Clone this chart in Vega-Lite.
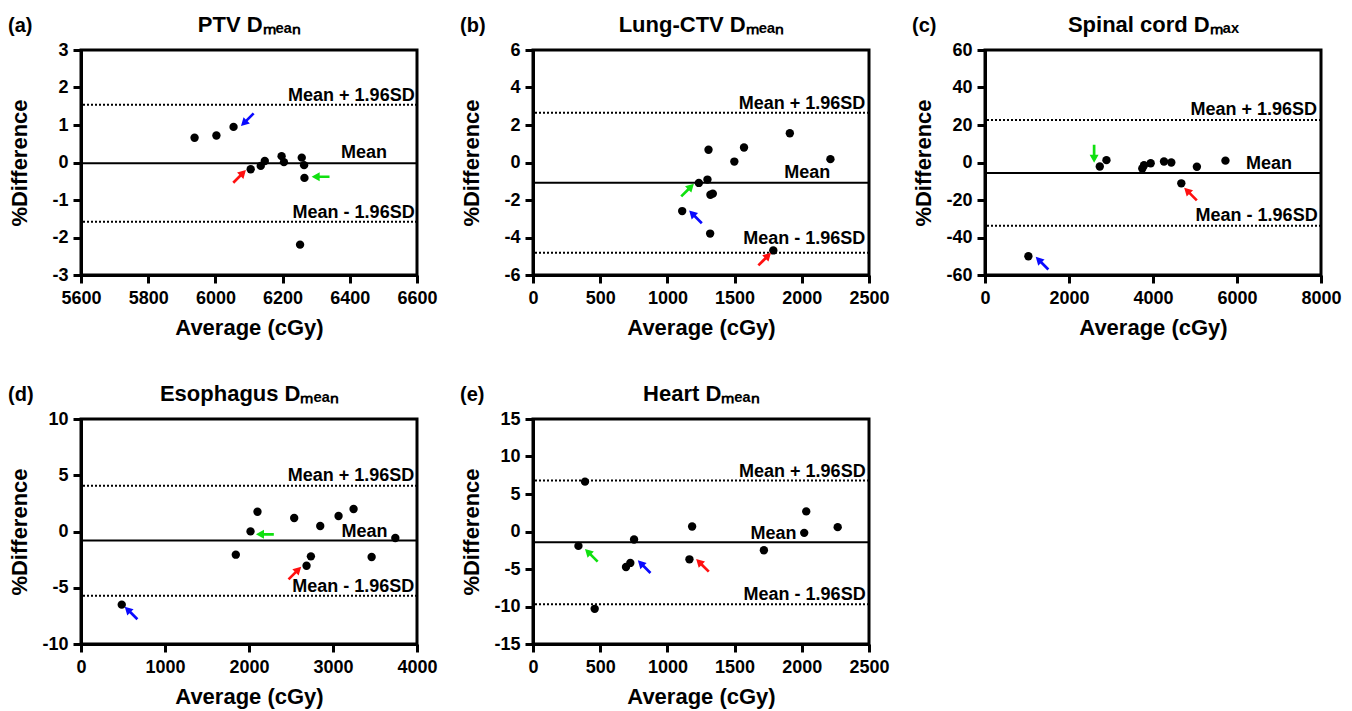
{
  "$schema": "https://vega.github.io/schema/vega-lite/v6.json",
  "background": "white",
  "padding": {"left": 6, "top": 11, "right": 5, "bottom": 5},
  "columns": 3,
  "spacing": {"row": 144, "column": 116},
  "bounds": "flush",
  "config": {
    "font": "Liberation Sans",
    "view": {"stroke": "black", "strokeWidth": 3},
    "axis": {
      "labelFont": "Liberation Sans", "labelFontSize": 18, "labelFontWeight": "bold", "labelColor": "black",
      "titleFont": "Liberation Sans", "titleFontSize": 22, "titleFontWeight": "bold", "titleColor": "black",
      "domainColor": "black", "domainWidth": 3, "tickColor": "black", "tickWidth": 3, "tickSize": 8,
      "grid": false, "labelPadding": 5, "labelFlush": false, "labelOverlap": false
    },
    "axisY": {"minExtent": 36, "maxExtent": 36, "titlePadding": 14},
    "axisBottom": {"titlePadding": 10, "labelPadding": 6},
    "axisTop": {"minExtent": 0, "maxExtent": 0, "titlePadding": 14, "labels": false, "ticks": false, "domain": false},
    "title": {"font": "Liberation Sans", "fontSize": 20, "fontWeight": "bold", "color": "black", "anchor": "start", "frame": "bounds", "offset": -23},
    "text": {"font": "Liberation Sans", "fontSize": 18, "fontWeight": "bold", "align": "right", "baseline": "alphabetic", "color": "black"}
  },
  "concat": [
    {
      "title": "(a)",
      "width": 336, "height": 225,
      "resolve": {"axis": {"x": "independent"}},
      "layer": [
        {
          "data": {"values": [{"line": "Mean", "value": -0.02}, {"line": "Mean + 1.96SD", "value": 1.54}, {"line": "Mean - 1.96SD", "value": -1.58}]},
          "mark": {"type": "rule", "strokeWidth": 2, "color": "black"},
          "encoding": {
            "y": {"field": "value", "type": "quantitative", "scale": {"domain": [-3, 3], "nice": false, "zero": false}, "axis": {"title": "%Difference", "values": [-3, -2, -1, 0, 1, 2, 3], "labelExpr": "toString(datum.value)"}},
            "strokeDash": {"field": "line", "type": "nominal", "scale": {"domain": ["Mean", "Mean + 1.96SD", "Mean - 1.96SD"], "range": [[1, 0], [2, 2], [2, 2]]}, "legend": null}
          }
        },
        {
          "data": {"values": [{"avg": 5938, "diff": 0.66}, {"avg": 6003, "diff": 0.72}, {"avg": 6054, "diff": 0.95}, {"avg": 6105, "diff": -0.18}, {"avg": 6135, "diff": -0.09}, {"avg": 6147, "diff": 0.04}, {"avg": 6197, "diff": 0.17}, {"avg": 6204, "diff": 0.01}, {"avg": 6257, "diff": 0.13}, {"avg": 6264, "diff": -0.07}, {"avg": 6265, "diff": -0.41}, {"avg": 6252, "diff": -2.19}]},
          "mark": {"type": "circle", "size": 70, "color": "black", "opacity": 1},
          "encoding": {
            "x": {"field": "avg", "type": "quantitative", "scale": {"domain": [5600, 6600], "nice": false, "zero": false}, "axis": {"orient": "bottom", "title": "Average (cGy)", "values": [5600, 5800, 6000, 6200, 6400, 6600], "labelExpr": "toString(datum.value)"}},
            "y": {"field": "diff", "type": "quantitative", "scale": {"domain": [-3, 3], "nice": false, "zero": false}, "axis": {"title": "%Difference", "values": [-3, -2, -1, 0, 1, 2, 3], "labelExpr": "toString(datum.value)"}}
          }
        },
        {
          "data": {"values": [{"label": "Mean + 1.96SD", "x": 6593, "y": 1.63}, {"label": "Mean", "x": 6511, "y": 0.12}, {"label": "Mean - 1.96SD", "x": 6593, "y": -1.48}]},
          "mark": {"type": "text"},
          "encoding": {
            "x": {"field": "x", "type": "quantitative", "scale": {"domain": [5600, 6600], "nice": false, "zero": false}, "axis": {"orient": "top", "title": "PTV Dₘₑₐₙ"}},
            "y": {"field": "y", "type": "quantitative", "scale": {"domain": [-3, 3], "nice": false, "zero": false}, "axis": {"title": "%Difference", "values": [-3, -2, -1, 0, 1, 2, 3], "labelExpr": "toString(datum.value)"}},
            "text": {"field": "label"}
          }
        },
        {
          "data": {"values": [{"case": "Case 1", "dir": "SW", "x": 6095, "y": 1.14}, {"case": "Case 2", "dir": "NE", "x": 6072, "y": -0.37}, {"case": "Case 3", "dir": "W", "x": 6313, "y": -0.38}]},
          "mark": {"type": "point", "filled": true, "size": 320, "opacity": 1},
          "encoding": {
            "x": {"field": "x", "type": "quantitative", "scale": {"domain": [5600, 6600], "nice": false, "zero": false}, "axis": null},
            "y": {"field": "y", "type": "quantitative", "scale": {"domain": [-3, 3], "nice": false, "zero": false}, "axis": {"title": "%Difference", "values": [-3, -2, -1, 0, 1, 2, 3], "labelExpr": "toString(datum.value)"}},
            "shape": {"field": "dir", "type": "nominal", "legend": null, "scale": {"domain": ["NE", "NW", "SW", "W", "S"], "range": ["M-0.813,0.601L-0.035,-0.177L-0.283,-0.424L0.707,-0.707L0.424,0.283L0.177,0.035L-0.601,0.813Z", "M0.813,0.601L0.035,-0.177L0.283,-0.424L-0.707,-0.707L-0.424,0.283L-0.177,0.035L0.601,0.813Z", "M0.813,-0.601L0.035,0.177L0.283,0.424L-0.707,0.707L-0.424,-0.283L-0.177,-0.035L0.601,-0.813Z", "M1,0.15L-0.1,0.15L-0.1,0.5L-1,0L-0.1,-0.5L-0.1,-0.15L1,-0.15Z", "M0.15,-1L0.15,0.1L0.5,0.1L0,1L-0.5,0.1L-0.15,0.1L-0.15,-1Z"]}},
            "color": {"field": "case", "type": "nominal", "legend": null, "scale": {"domain": ["Case 1", "Case 2", "Case 3"], "range": ["#0a0aff", "#ff1010", "#10e010"]}}
          }
        }
      ]
    },
    {
      "title": "(b)",
      "width": 336, "height": 225,
      "resolve": {"axis": {"x": "independent"}},
      "layer": [
        {
          "data": {"values": [{"line": "Mean", "value": -1.08}, {"line": "Mean + 1.96SD", "value": 2.65}, {"line": "Mean - 1.96SD", "value": -4.81}]},
          "mark": {"type": "rule", "strokeWidth": 2, "color": "black"},
          "encoding": {
            "y": {"field": "value", "type": "quantitative", "scale": {"domain": [-6, 6], "nice": false, "zero": false}, "axis": {"title": "%Difference", "values": [-6, -4, -2, 0, 2, 4, 6], "labelExpr": "toString(datum.value)"}},
            "strokeDash": {"field": "line", "type": "nominal", "scale": {"domain": ["Mean", "Mean + 1.96SD", "Mean - 1.96SD"], "range": [[1, 0], [2, 2], [2, 2]]}, "legend": null}
          }
        },
        {
          "data": {"values": [{"avg": 1110, "diff": -2.59}, {"avg": 1234, "diff": -1.09}, {"avg": 1298, "diff": -0.91}, {"avg": 1306, "diff": 0.68}, {"avg": 1318, "diff": -3.79}, {"avg": 1320, "diff": -1.72}, {"avg": 1338, "diff": -1.66}, {"avg": 1498, "diff": 0.05}, {"avg": 1570, "diff": 0.8}, {"avg": 1788, "diff": -4.69}, {"avg": 1911, "diff": 1.56}, {"avg": 2213, "diff": 0.18}]},
          "mark": {"type": "circle", "size": 70, "color": "black", "opacity": 1},
          "encoding": {
            "x": {"field": "avg", "type": "quantitative", "scale": {"domain": [0, 2500], "nice": false, "zero": false}, "axis": {"orient": "bottom", "title": "Average (cGy)", "values": [0, 500, 1000, 1500, 2000, 2500], "labelExpr": "toString(datum.value)"}},
            "y": {"field": "diff", "type": "quantitative", "scale": {"domain": [-6, 6], "nice": false, "zero": false}, "axis": {"title": "%Difference", "values": [-6, -4, -2, 0, 2, 4, 6], "labelExpr": "toString(datum.value)"}}
          }
        },
        {
          "data": {"values": [{"label": "Mean + 1.96SD", "x": 2473, "y": 2.86}, {"label": "Mean", "x": 2211, "y": -0.84}, {"label": "Mean - 1.96SD", "x": 2473, "y": -4.33}]},
          "mark": {"type": "text"},
          "encoding": {
            "x": {"field": "x", "type": "quantitative", "scale": {"domain": [0, 2500], "nice": false, "zero": false}, "axis": {"orient": "top", "title": "Lung-CTV Dₘₑₐₙ"}},
            "y": {"field": "y", "type": "quantitative", "scale": {"domain": [-6, 6], "nice": false, "zero": false}, "axis": {"title": "%Difference", "values": [-6, -4, -2, 0, 2, 4, 6], "labelExpr": "toString(datum.value)"}},
            "text": {"field": "label"}
          }
        },
        {
          "data": {"values": [{"case": "Case 3", "dir": "NE", "x": 1150, "y": -1.47}, {"case": "Case 1", "dir": "NW", "x": 1209, "y": -2.9}, {"case": "Case 2", "dir": "NE", "x": 1724, "y": -5.15}]},
          "mark": {"type": "point", "filled": true, "size": 320, "opacity": 1},
          "encoding": {
            "x": {"field": "x", "type": "quantitative", "scale": {"domain": [0, 2500], "nice": false, "zero": false}, "axis": null},
            "y": {"field": "y", "type": "quantitative", "scale": {"domain": [-6, 6], "nice": false, "zero": false}, "axis": {"title": "%Difference", "values": [-6, -4, -2, 0, 2, 4, 6], "labelExpr": "toString(datum.value)"}},
            "shape": {"field": "dir", "type": "nominal", "legend": null, "scale": {"domain": ["NE", "NW", "SW", "W", "S"], "range": ["M-0.813,0.601L-0.035,-0.177L-0.283,-0.424L0.707,-0.707L0.424,0.283L0.177,0.035L-0.601,0.813Z", "M0.813,0.601L0.035,-0.177L0.283,-0.424L-0.707,-0.707L-0.424,0.283L-0.177,0.035L0.601,0.813Z", "M0.813,-0.601L0.035,0.177L0.283,0.424L-0.707,0.707L-0.424,-0.283L-0.177,-0.035L0.601,-0.813Z", "M1,0.15L-0.1,0.15L-0.1,0.5L-1,0L-0.1,-0.5L-0.1,-0.15L1,-0.15Z", "M0.15,-1L0.15,0.1L0.5,0.1L0,1L-0.5,0.1L-0.15,0.1L-0.15,-1Z"]}},
            "color": {"field": "case", "type": "nominal", "legend": null, "scale": {"domain": ["Case 1", "Case 2", "Case 3"], "range": ["#0a0aff", "#ff1010", "#10e010"]}}
          }
        }
      ]
    },
    {
      "title": "(c)",
      "width": 336, "height": 225,
      "resolve": {"axis": {"x": "independent"}},
      "layer": [
        {
          "data": {"values": [{"line": "Mean", "value": -5.55}, {"line": "Mean + 1.96SD", "value": 22.7}, {"line": "Mean - 1.96SD", "value": -33.7}]},
          "mark": {"type": "rule", "strokeWidth": 2, "color": "black"},
          "encoding": {
            "y": {"field": "value", "type": "quantitative", "scale": {"domain": [-60, 60], "nice": false, "zero": false}, "axis": {"title": "%Difference", "values": [-60, -40, -20, 0, 20, 40, 60], "labelExpr": "toString(datum.value)"}},
            "strokeDash": {"field": "line", "type": "nominal", "scale": {"domain": ["Mean", "Mean + 1.96SD", "Mean - 1.96SD"], "range": [[1, 0], [2, 2], [2, 2]]}, "legend": null}
          }
        },
        {
          "data": {"values": [{"avg": 1033, "diff": -50.0}, {"avg": 2733, "diff": -2.15}, {"avg": 2892, "diff": 1.25}, {"avg": 3745, "diff": -3.2}, {"avg": 3786, "diff": -1.45}, {"avg": 3945, "diff": -0.4}, {"avg": 4262, "diff": 0.54}, {"avg": 4436, "diff": 0.0}, {"avg": 4674, "diff": -11.1}, {"avg": 5045, "diff": -2.25}, {"avg": 5725, "diff": 1.0}]},
          "mark": {"type": "circle", "size": 70, "color": "black", "opacity": 1},
          "encoding": {
            "x": {"field": "avg", "type": "quantitative", "scale": {"domain": [0, 8000], "nice": false, "zero": false}, "axis": {"orient": "bottom", "title": "Average (cGy)", "values": [0, 2000, 4000, 6000, 8000], "labelExpr": "toString(datum.value)"}},
            "y": {"field": "diff", "type": "quantitative", "scale": {"domain": [-60, 60], "nice": false, "zero": false}, "axis": {"title": "%Difference", "values": [-60, -40, -20, 0, 20, 40, 60], "labelExpr": "toString(datum.value)"}}
          }
        },
        {
          "data": {"values": [{"label": "Mean + 1.96SD", "x": 7904, "y": 25.4}, {"label": "Mean", "x": 7308, "y": -3.58}, {"label": "Mean - 1.96SD", "x": 7920, "y": -31.3}]},
          "mark": {"type": "text"},
          "encoding": {
            "x": {"field": "x", "type": "quantitative", "scale": {"domain": [0, 8000], "nice": false, "zero": false}, "axis": {"orient": "top", "title": "Spinal cord Dₘₐₓ"}},
            "y": {"field": "y", "type": "quantitative", "scale": {"domain": [-60, 60], "nice": false, "zero": false}, "axis": {"title": "%Difference", "values": [-60, -40, -20, 0, 20, 40, 60], "labelExpr": "toString(datum.value)"}},
            "text": {"field": "label"}
          }
        },
        {
          "data": {"values": [{"case": "Case 3", "dir": "S", "x": 2598, "y": 4.66}, {"case": "Case 2", "dir": "NW", "x": 4893, "y": -16.8}, {"case": "Case 1", "dir": "NW", "x": 1358, "y": -53.7}]},
          "mark": {"type": "point", "filled": true, "size": 320, "opacity": 1},
          "encoding": {
            "x": {"field": "x", "type": "quantitative", "scale": {"domain": [0, 8000], "nice": false, "zero": false}, "axis": null},
            "y": {"field": "y", "type": "quantitative", "scale": {"domain": [-60, 60], "nice": false, "zero": false}, "axis": {"title": "%Difference", "values": [-60, -40, -20, 0, 20, 40, 60], "labelExpr": "toString(datum.value)"}},
            "shape": {"field": "dir", "type": "nominal", "legend": null, "scale": {"domain": ["NE", "NW", "SW", "W", "S"], "range": ["M-0.813,0.601L-0.035,-0.177L-0.283,-0.424L0.707,-0.707L0.424,0.283L0.177,0.035L-0.601,0.813Z", "M0.813,0.601L0.035,-0.177L0.283,-0.424L-0.707,-0.707L-0.424,0.283L-0.177,0.035L0.601,0.813Z", "M0.813,-0.601L0.035,0.177L0.283,0.424L-0.707,0.707L-0.424,-0.283L-0.177,-0.035L0.601,-0.813Z", "M1,0.15L-0.1,0.15L-0.1,0.5L-1,0L-0.1,-0.5L-0.1,-0.15L1,-0.15Z", "M0.15,-1L0.15,0.1L0.5,0.1L0,1L-0.5,0.1L-0.15,0.1L-0.15,-1Z"]}},
            "color": {"field": "case", "type": "nominal", "legend": null, "scale": {"domain": ["Case 1", "Case 2", "Case 3"], "range": ["#0a0aff", "#ff1010", "#10e010"]}}
          }
        }
      ]
    },
    {
      "title": "(d)",
      "width": 336, "height": 225,
      "resolve": {"axis": {"x": "independent"}},
      "layer": [
        {
          "data": {"values": [{"line": "Mean", "value": -0.81}, {"line": "Mean + 1.96SD", "value": 4.07}, {"line": "Mean - 1.96SD", "value": -5.7}]},
          "mark": {"type": "rule", "strokeWidth": 2, "color": "black"},
          "encoding": {
            "y": {"field": "value", "type": "quantitative", "scale": {"domain": [-10, 10], "nice": false, "zero": false}, "axis": {"title": "%Difference", "values": [-10, -5, 0, 5, 10], "labelExpr": "toString(datum.value)"}},
            "strokeDash": {"field": "line", "type": "nominal", "scale": {"domain": ["Mean", "Mean + 1.96SD", "Mean - 1.96SD"], "range": [[1, 0], [2, 2], [2, 2]]}, "legend": null}
          }
        },
        {
          "data": {"values": [{"avg": 485, "diff": -6.5}, {"avg": 1843, "diff": -2.06}, {"avg": 2018, "diff": 0.01}, {"avg": 2101, "diff": 1.76}, {"avg": 2538, "diff": 1.2}, {"avg": 2685, "diff": -3.04}, {"avg": 2737, "diff": -2.21}, {"avg": 2848, "diff": 0.49}, {"avg": 3066, "diff": 1.38}, {"avg": 3245, "diff": 2.0}, {"avg": 3460, "diff": -2.27}, {"avg": 3742, "diff": -0.58}]},
          "mark": {"type": "circle", "size": 70, "color": "black", "opacity": 1},
          "encoding": {
            "x": {"field": "avg", "type": "quantitative", "scale": {"domain": [0, 4000], "nice": false, "zero": false}, "axis": {"orient": "bottom", "title": "Average (cGy)", "values": [0, 1000, 2000, 3000, 4000], "labelExpr": "toString(datum.value)"}},
            "y": {"field": "diff", "type": "quantitative", "scale": {"domain": [-10, 10], "nice": false, "zero": false}, "axis": {"title": "%Difference", "values": [-10, -5, 0, 5, 10], "labelExpr": "toString(datum.value)"}}
          }
        },
        {
          "data": {"values": [{"label": "Mean + 1.96SD", "x": 3968, "y": 4.52}, {"label": "Mean", "x": 3650, "y": -0.46}, {"label": "Mean - 1.96SD", "x": 3968, "y": -5.35}]},
          "mark": {"type": "text"},
          "encoding": {
            "x": {"field": "x", "type": "quantitative", "scale": {"domain": [0, 4000], "nice": false, "zero": false}, "axis": {"orient": "top", "title": "Esophagus Dₘₑₐₙ"}},
            "y": {"field": "y", "type": "quantitative", "scale": {"domain": [-10, 10], "nice": false, "zero": false}, "axis": {"title": "%Difference", "values": [-10, -5, 0, 5, 10], "labelExpr": "toString(datum.value)"}},
            "text": {"field": "label"}
          }
        },
        {
          "data": {"values": [{"case": "Case 3", "dir": "W", "x": 2189, "y": -0.25}, {"case": "Case 2", "dir": "NE", "x": 2546, "y": -3.69}, {"case": "Case 1", "dir": "NW", "x": 596, "y": -7.24}]},
          "mark": {"type": "point", "filled": true, "size": 320, "opacity": 1},
          "encoding": {
            "x": {"field": "x", "type": "quantitative", "scale": {"domain": [0, 4000], "nice": false, "zero": false}, "axis": null},
            "y": {"field": "y", "type": "quantitative", "scale": {"domain": [-10, 10], "nice": false, "zero": false}, "axis": {"title": "%Difference", "values": [-10, -5, 0, 5, 10], "labelExpr": "toString(datum.value)"}},
            "shape": {"field": "dir", "type": "nominal", "legend": null, "scale": {"domain": ["NE", "NW", "SW", "W", "S"], "range": ["M-0.813,0.601L-0.035,-0.177L-0.283,-0.424L0.707,-0.707L0.424,0.283L0.177,0.035L-0.601,0.813Z", "M0.813,0.601L0.035,-0.177L0.283,-0.424L-0.707,-0.707L-0.424,0.283L-0.177,0.035L0.601,0.813Z", "M0.813,-0.601L0.035,0.177L0.283,0.424L-0.707,0.707L-0.424,-0.283L-0.177,-0.035L0.601,-0.813Z", "M1,0.15L-0.1,0.15L-0.1,0.5L-1,0L-0.1,-0.5L-0.1,-0.15L1,-0.15Z", "M0.15,-1L0.15,0.1L0.5,0.1L0,1L-0.5,0.1L-0.15,0.1L-0.15,-1Z"]}},
            "color": {"field": "case", "type": "nominal", "legend": null, "scale": {"domain": ["Case 1", "Case 2", "Case 3"], "range": ["#0a0aff", "#ff1010", "#10e010"]}}
          }
        }
      ]
    },
    {
      "title": "(e)",
      "width": 336, "height": 225,
      "resolve": {"axis": {"x": "independent"}},
      "layer": [
        {
          "data": {"values": [{"line": "Mean", "value": -1.43}, {"line": "Mean + 1.96SD", "value": 6.79}, {"line": "Mean - 1.96SD", "value": -9.69}]},
          "mark": {"type": "rule", "strokeWidth": 2, "color": "black"},
          "encoding": {
            "y": {"field": "value", "type": "quantitative", "scale": {"domain": [-15, 15], "nice": false, "zero": false}, "axis": {"title": "%Difference", "values": [-15, -10, -5, 0, 5, 10, 15], "labelExpr": "toString(datum.value)"}},
            "strokeDash": {"field": "line", "type": "nominal", "scale": {"domain": ["Mean", "Mean + 1.96SD", "Mean - 1.96SD"], "range": [[1, 0], [2, 2], [2, 2]]}, "legend": null}
          }
        },
        {
          "data": {"values": [{"avg": 338, "diff": -1.92}, {"avg": 387, "diff": 6.65}, {"avg": 459, "diff": -10.31}, {"avg": 692, "diff": -4.73}, {"avg": 724, "diff": -4.19}, {"avg": 752, "diff": -1.07}, {"avg": 1164, "diff": -3.71}, {"avg": 1184, "diff": 0.67}, {"avg": 1718, "diff": -2.5}, {"avg": 2018, "diff": -0.18}, {"avg": 2033, "diff": 2.68}, {"avg": 2267, "diff": 0.58}]},
          "mark": {"type": "circle", "size": 70, "color": "black", "opacity": 1},
          "encoding": {
            "x": {"field": "avg", "type": "quantitative", "scale": {"domain": [0, 2500], "nice": false, "zero": false}, "axis": {"orient": "bottom", "title": "Average (cGy)", "values": [0, 500, 1000, 1500, 2000, 2500], "labelExpr": "toString(datum.value)"}},
            "y": {"field": "diff", "type": "quantitative", "scale": {"domain": [-15, 15], "nice": false, "zero": false}, "axis": {"title": "%Difference", "values": [-15, -10, -5, 0, 5, 10, 15], "labelExpr": "toString(datum.value)"}}
          }
        },
        {
          "data": {"values": [{"label": "Mean + 1.96SD", "x": 2475, "y": 7.32}, {"label": "Mean", "x": 1961, "y": -0.94}, {"label": "Mean - 1.96SD", "x": 2475, "y": -9.11}]},
          "mark": {"type": "text"},
          "encoding": {
            "x": {"field": "x", "type": "quantitative", "scale": {"domain": [0, 2500], "nice": false, "zero": false}, "axis": {"orient": "top", "title": "Heart Dₘₑₐₙ"}},
            "y": {"field": "y", "type": "quantitative", "scale": {"domain": [-15, 15], "nice": false, "zero": false}, "axis": {"title": "%Difference", "values": [-15, -10, -5, 0, 5, 10, 15], "labelExpr": "toString(datum.value)"}},
            "text": {"field": "label"}
          }
        },
        {
          "data": {"values": [{"case": "Case 3", "dir": "NW", "x": 434, "y": -3.17}, {"case": "Case 1", "dir": "NW", "x": 827, "y": -4.69}, {"case": "Case 2", "dir": "NW", "x": 1261, "y": -4.51}]},
          "mark": {"type": "point", "filled": true, "size": 320, "opacity": 1},
          "encoding": {
            "x": {"field": "x", "type": "quantitative", "scale": {"domain": [0, 2500], "nice": false, "zero": false}, "axis": null},
            "y": {"field": "y", "type": "quantitative", "scale": {"domain": [-15, 15], "nice": false, "zero": false}, "axis": {"title": "%Difference", "values": [-15, -10, -5, 0, 5, 10, 15], "labelExpr": "toString(datum.value)"}},
            "shape": {"field": "dir", "type": "nominal", "legend": null, "scale": {"domain": ["NE", "NW", "SW", "W", "S"], "range": ["M-0.813,0.601L-0.035,-0.177L-0.283,-0.424L0.707,-0.707L0.424,0.283L0.177,0.035L-0.601,0.813Z", "M0.813,0.601L0.035,-0.177L0.283,-0.424L-0.707,-0.707L-0.424,0.283L-0.177,0.035L0.601,0.813Z", "M0.813,-0.601L0.035,0.177L0.283,0.424L-0.707,0.707L-0.424,-0.283L-0.177,-0.035L0.601,-0.813Z", "M1,0.15L-0.1,0.15L-0.1,0.5L-1,0L-0.1,-0.5L-0.1,-0.15L1,-0.15Z", "M0.15,-1L0.15,0.1L0.5,0.1L0,1L-0.5,0.1L-0.15,0.1L-0.15,-1Z"]}},
            "color": {"field": "case", "type": "nominal", "legend": null, "scale": {"domain": ["Case 1", "Case 2", "Case 3"], "range": ["#0a0aff", "#ff1010", "#10e010"]}}
          }
        }
      ]
    }
  ]
}
